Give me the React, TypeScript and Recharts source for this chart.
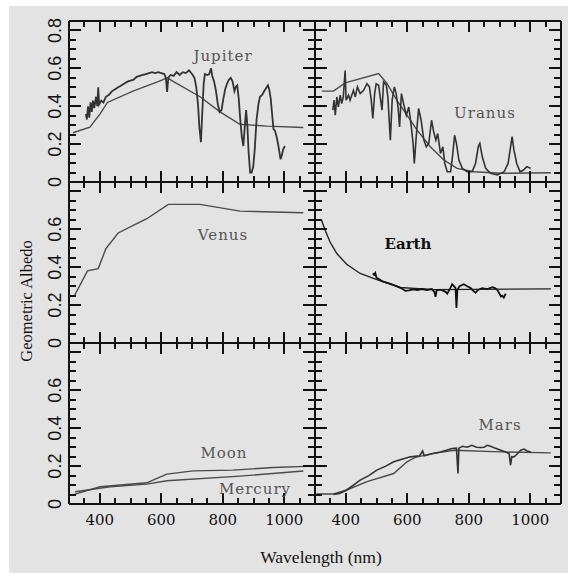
import { LineChart, Line, XAxis, YAxis, ReferenceLine } from "recharts";

// wavelength (nm) / geometric albedo
const xTicks = [350, 400, 450, 500, 550, 600, 650, 700, 750, 800, 850, 900, 950, 1000, 1050];
const xLabels = [400, 600, 800, 1000];
const yTicks = [0.05, 0.1, 0.15, 0.2, 0.25, 0.3, 0.35, 0.4, 0.45, 0.5, 0.55, 0.6, 0.65, 0.7, 0.75, 0.8];
const yLabels = [0, 0.2, 0.4, 0.6, 0.8];

const jupiterObsNm = [355, 358, 362, 366, 370, 374, 378, 382, 388, 392, 395, 398, 405, 412, 420, 430, 440, 450, 460, 470, 480, 490, 500, 510, 520, 530, 540, 550, 560, 570, 580, 590, 600, 610, 615, 619, 623, 630, 640, 650, 660, 670, 680, 690, 700, 708, 714, 720, 724, 729, 733, 738, 742, 750, 756, 762, 766, 772, 778, 784, 790, 796, 802, 808, 814, 820, 826, 832, 838, 842, 847, 852, 857, 862, 867, 872, 876, 880, 884, 889, 894, 899, 904, 910, 916, 921, 928, 935, 943, 947, 951, 956, 961, 965, 970, 975, 980, 984, 988, 992, 996, 1002];
const jupiterObs = [0.36, 0.33, 0.4, 0.34, 0.42, 0.37, 0.43, 0.39, 0.45, 0.4, 0.5, 0.41, 0.43, 0.42, 0.45, 0.46, 0.48, 0.49, 0.5, 0.51, 0.52, 0.53, 0.535, 0.54, 0.555, 0.56, 0.565, 0.57, 0.575, 0.58, 0.575, 0.58, 0.575, 0.57, 0.55, 0.475, 0.55, 0.565, 0.56, 0.58, 0.565, 0.58, 0.575, 0.59, 0.57, 0.55, 0.5, 0.4, 0.29, 0.21, 0.35, 0.52, 0.57, 0.565, 0.57, 0.6, 0.56, 0.53, 0.48, 0.41, 0.37, 0.38, 0.44, 0.49, 0.52, 0.54, 0.55, 0.53, 0.48, 0.5, 0.51, 0.44, 0.33, 0.24, 0.19, 0.3, 0.38, 0.3, 0.16, 0.05, 0.05, 0.08, 0.17, 0.33, 0.41, 0.45, 0.46, 0.48, 0.5, 0.51, 0.49, 0.44, 0.35, 0.28, 0.27, 0.24, 0.2, 0.16, 0.12, 0.14, 0.17, 0.19];
const jupiterModelNm = [313, 368, 401, 425, 508, 590, 620, 640, 726, 791, 856, 944, 1062];
const jupiterModel = [0.26, 0.29, 0.36, 0.42, 0.48, 0.53, 0.55, 0.53, 0.45, 0.37, 0.305, 0.295, 0.288];

const uranusObsNm = [358, 362, 366, 371, 376, 382, 387, 392, 398, 401, 409, 414, 425, 431, 438, 447, 458, 469, 477, 483, 488, 494, 499, 507, 512, 518, 523, 532, 537, 545, 551, 558, 564, 570, 575, 581, 588, 597, 605, 612, 619, 623, 630, 637, 645, 654, 662, 670, 679, 686, 693, 699, 708, 716, 722, 730, 741, 747, 754, 760, 768, 779, 795, 811, 822, 831, 836, 844, 855, 871, 893, 915, 928, 936, 941, 947, 956, 967, 978, 989, 1002];
const uranusObs = [0.379, 0.432, 0.353, 0.449, 0.396, 0.458, 0.414, 0.449, 0.589, 0.432, 0.458, 0.432, 0.484, 0.449, 0.502, 0.467, 0.484, 0.519, 0.502, 0.432, 0.335, 0.467, 0.519, 0.511, 0.449, 0.379, 0.528, 0.511, 0.449, 0.221, 0.432, 0.502, 0.467, 0.396, 0.291, 0.467, 0.414, 0.353, 0.396, 0.309, 0.204, 0.098, 0.256, 0.388, 0.326, 0.221, 0.186, 0.204, 0.326, 0.265, 0.221, 0.256, 0.151, 0.186, 0.098, 0.054, 0.054, 0.133, 0.247, 0.204, 0.116, 0.072, 0.054, 0.054, 0.098, 0.186, 0.204, 0.133, 0.072, 0.046, 0.037, 0.054, 0.098, 0.186, 0.239, 0.168, 0.098, 0.054, 0.063, 0.081, 0.072];
const uranusModelNm = [322, 360, 398, 507, 534, 567, 599, 632, 675, 719, 762, 817, 904, 1067];
const uranusModel = [0.48, 0.48, 0.523, 0.572, 0.52, 0.43, 0.353, 0.274, 0.186, 0.116, 0.072, 0.054, 0.046, 0.049];

const venusNm = [316, 360, 395, 420, 460, 509, 553, 623, 726, 856, 1062];
const venus = [0.244, 0.381, 0.393, 0.498, 0.581, 0.621, 0.656, 0.732, 0.732, 0.696, 0.688];

const earthModelNm = [316, 322, 333, 349, 371, 403, 447, 501, 577, 686, 1067];
const earthModel = [0.651, 0.645, 0.595, 0.533, 0.472, 0.416, 0.367, 0.335, 0.293, 0.282, 0.286];
const earthObsNm = [488, 492, 496, 500, 510, 520, 535, 550, 565, 580, 594, 605, 620, 632, 648, 664, 680, 688, 692, 696, 710, 725, 730, 740, 746, 752, 757, 760, 763, 770, 784, 795, 806, 815, 822, 830, 844, 860, 877, 885, 893, 900, 905, 909, 914, 920];
const earthObs = [0.367, 0.36, 0.37, 0.345, 0.335, 0.325, 0.318, 0.31, 0.3, 0.29, 0.275, 0.278, 0.283, 0.28, 0.285, 0.28, 0.285, 0.27, 0.244, 0.28, 0.28, 0.27, 0.26, 0.29, 0.31, 0.3, 0.29, 0.185, 0.28, 0.3, 0.31, 0.3, 0.29, 0.275, 0.265, 0.28, 0.29, 0.285, 0.295, 0.29, 0.28, 0.26, 0.245, 0.25, 0.24, 0.26];

const moonNm = [309, 401, 553, 618, 704, 834, 964, 1095];
const moon = [0.047, 0.091, 0.112, 0.158, 0.175, 0.179, 0.193, 0.2];
const mercuryNm = [320, 433, 553, 618, 856, 1062];
const mercury = [0.065, 0.091, 0.105, 0.123, 0.147, 0.174];

const marsModelNm = [305, 360, 403, 469, 556, 599, 626, 686, 752, 904, 1067];
const marsModel = [0.053, 0.053, 0.074, 0.118, 0.161, 0.223, 0.246, 0.267, 0.284, 0.275, 0.27];
const marsObsNm = [360, 380, 403, 425, 447, 475, 501, 530, 556, 585, 610, 640, 650, 655, 680, 708, 730, 746, 760, 765, 768, 780, 795, 810, 825, 839, 850, 860, 871, 885, 904, 920, 931, 936, 940, 947, 955, 969, 980, 990, 1002];
const marsObs = [0.05, 0.056, 0.074, 0.1, 0.126, 0.15, 0.179, 0.2, 0.223, 0.238, 0.249, 0.255, 0.28, 0.255, 0.265, 0.275, 0.285, 0.293, 0.295, 0.161, 0.295, 0.305, 0.3, 0.31, 0.3, 0.298, 0.3, 0.31, 0.305, 0.295, 0.284, 0.275, 0.267, 0.205, 0.25, 0.249, 0.26, 0.284, 0.29, 0.28, 0.275];

const pts = (nm: number[], alb: number[]) => nm.map((w, i) => ({ nm: w, alb: alb[i] }));

const INK = "#111";
const X0 = 300;
const X1 = 1100;
const YMAX = 0.85;
const PW = 246;
const PH = 161;
const ML = 45;
const MT = 12;

type Series = { data: { nm: number; alb: number }[]; color: string; width: number };
type Tag = { text: string; x: number; y: number; bold?: boolean };

// inward tick marks on all four edges of a panel frame
function TickFrame() {
  const marks = [];
  const box = (key: string, l: number, t: number, w: number, h: number) => (
    <div key={key} style={{ position: "absolute", left: l, top: t, width: w, height: h, background: INK }} />
  );
  for (const v of xTicks) {
    const px = Math.round(ML + ((v - X0) / (X1 - X0)) * PW - 1);
    const len = v % 200 === 0 ? 11 : 6;
    marks.push(box(`b${v}`, px, MT + PH - len, 2, len));
    marks.push(box(`t${v}`, px, MT, 2, len));
  }
  for (const v of yTicks) {
    const py = Math.round(MT + PH - (v / YMAX) * PH - 1);
    const len = Math.round(v * 100) % 20 === 0 ? 12 : 7;
    marks.push(box(`l${v}`, ML, py, len, 2));
    marks.push(box(`r${v}`, ML + PW - len, py, len, 2));
  }
  return <>{marks}</>;
}

function Panel(props: {
  left: number;
  top: number;
  series: Series[];
  tags: Tag[];
  xLab: boolean;
  yLab: boolean;
  yMaxLab: boolean;
}) {
  const { left, top, series, tags, xLab, yLab, yMaxLab } = props;

  const xTick = (p: any) => {
    const { x, y, payload } = p;
    if (!xLab) return <g />;
    return (
      <text x={x} y={y + 21} textAnchor="middle" fontFamily="DejaVu Serif" fontSize={15} fill={INK}>
        {payload.value}
      </text>
    );
  };
  const yTick = (p: any) => {
    const { x, y, payload } = p;
    const v = payload.value;
    if (!yLab || (v > 0.7 && !yMaxLab)) return <g />;
    return (
      <text
        x={x - 8}
        y={y}
        transform={`rotate(-90 ${x - 8} ${y})`}
        textAnchor="middle"
        fontFamily="Liberation Sans"
        fontSize={18}
        fill={INK}
      >
        {v === 0 ? "0" : v.toFixed(1)}
      </text>
    );
  };

  return (
    <div style={{ position: "absolute", left: left - ML, top: top - MT, width: PW + ML + 12, height: PH + MT + 30 }}>
      <LineChart width={PW + ML + 12} height={PH + MT + 30} margin={{ top: MT, right: 12, left: 0, bottom: 0 }}>
        <XAxis
          dataKey="nm"
          type="number"
          domain={[X0, X1]}
          allowDataOverflow
          ticks={xLabels}
          interval={0}
          tickSize={0}
          tickMargin={0}
          tickLine={false}
          tick={xTick}
          height={30}
          axisLine={{ stroke: INK, strokeWidth: 2 }}
        />
        <YAxis
          type="number"
          domain={[0, YMAX]}
          allowDataOverflow
          ticks={yLabels}
          interval={0}
          tickSize={0}
          tickMargin={0}
          tickLine={false}
          tick={yTick}
          width={ML}
          axisLine={{ stroke: INK, strokeWidth: 2 }}
        />
        <ReferenceLine y={YMAX} stroke={INK} strokeWidth={2} ifOverflow="visible" />
        <ReferenceLine x={X1} stroke={INK} strokeWidth={2} ifOverflow="visible" />
        {series.map((s, i) => (
          <Line
            key={i}
            data={s.data}
            dataKey="alb"
            type="linear"
            stroke={s.color}
            strokeWidth={s.width}
            dot={false}
            activeDot={false}
            isAnimationActive={false}
          />
        ))}
      </LineChart>
      <TickFrame />
      {tags.map((t) => (
        <div
          key={t.text}
          style={{
            position: "absolute",
            left: t.x - left + ML,
            top: t.y - top + MT,
            transform: "translate(-50%, -50%)",
            fontFamily: "DejaVu Serif",
            fontSize: 15,
            lineHeight: "16px",
            letterSpacing: t.bold ? 0 : 1,
            fontWeight: t.bold ? 700 : 400,
            color: t.bold ? "#111" : "#555",
            whiteSpace: "nowrap",
          }}
        >
          {t.text}
        </div>
      ))}
    </div>
  );
}

export default function App() {
  const model = "#4a4a4a";
  const obs = "#333";
  return (
    <div style={{ position: "absolute", left: 0, top: 0, width: 568, height: 573, background: "#fff", overflow: "hidden" }}>
      <div style={{ position: "absolute", left: 9, top: 6, right: 0, bottom: 0, background: "#e3e3e3" }} />
      <Panel
        left={69}
        top={21}
        xLab={false}
        yLab
        yMaxLab
        series={[
          { data: pts(jupiterModelNm, jupiterModel), color: model, width: 1.4 },
          { data: pts(jupiterObsNm, jupiterObs), color: obs, width: 1.8 },
        ]}
        tags={[{ text: "Jupiter", x: 223, y: 56 }]}
      />
      <Panel
        left={315}
        top={21}
        xLab={false}
        yLab={false}
        yMaxLab={false}
        series={[
          { data: pts(uranusModelNm, uranusModel), color: model, width: 1.4 },
          { data: pts(uranusObsNm, uranusObs), color: obs, width: 1.6 },
        ]}
        tags={[{ text: "Uranus", x: 485, y: 113 }]}
      />
      <Panel
        left={69}
        top={182}
        xLab={false}
        yLab
        yMaxLab={false}
        series={[{ data: pts(venusNm, venus), color: model, width: 1.4 }]}
        tags={[{ text: "Venus", x: 223, y: 235 }]}
      />
      <Panel
        left={315}
        top={182}
        xLab={false}
        yLab={false}
        yMaxLab={false}
        series={[
          { data: pts(earthModelNm, earthModel), color: "#222", width: 1.4 },
          { data: pts(earthObsNm, earthObs), color: "#111", width: 1.8 },
        ]}
        tags={[{ text: "Earth", x: 408, y: 244, bold: true }]}
      />
      <Panel
        left={69}
        top={343}
        xLab
        yLab
        yMaxLab={false}
        series={[
          { data: pts(moonNm, moon), color: model, width: 1.4 },
          { data: pts(mercuryNm, mercury), color: model, width: 1.4 },
        ]}
        tags={[
          { text: "Moon", x: 224, y: 453 },
          { text: "Mercury", x: 255, y: 489 },
        ]}
      />
      <Panel
        left={315}
        top={343}
        xLab
        yLab={false}
        yMaxLab={false}
        series={[
          { data: pts(marsModelNm, marsModel), color: model, width: 1.4 },
          { data: pts(marsObsNm, marsObs), color: obs, width: 1.6 },
        ]}
        tags={[{ text: "Mars", x: 500, y: 425 }]}
      />
      <div
        style={{
          position: "absolute",
          left: 27,
          top: 301,
          transform: "translate(-50%, -50%) rotate(-90deg)",
          fontFamily: "Liberation Serif",
          fontSize: 16.5,
          lineHeight: "18px",
          color: "#111",
          whiteSpace: "nowrap",
        }}
      >
        Geometric Albedo
      </div>
      <div
        style={{
          position: "absolute",
          left: 321,
          top: 557,
          transform: "translate(-50%, -50%)",
          fontFamily: "Liberation Serif",
          fontSize: 17.5,
          color: "#111",
          whiteSpace: "nowrap",
        }}
      >
        Wavelength (nm)
      </div>
    </div>
  );
}
